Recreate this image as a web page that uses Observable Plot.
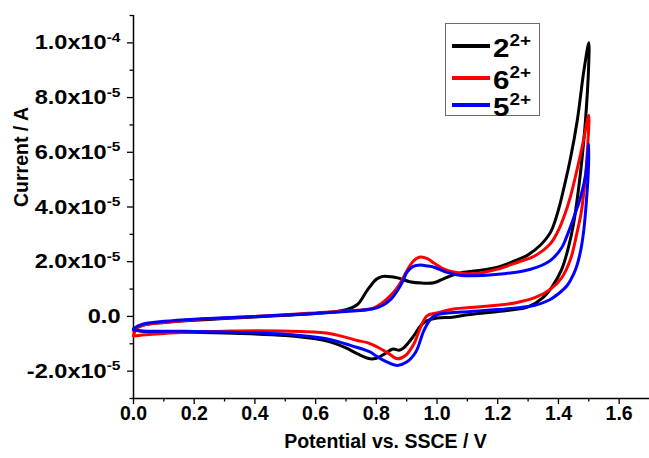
<!DOCTYPE html>
<html>
<head>
<meta charset="utf-8">
<script src="https://cdn.jsdelivr.net/npm/d3@7"></script>
<script src="https://cdn.jsdelivr.net/npm/@observablehq/plot@0.6"></script>
<style>
  body { margin: 0; background: #fff; }
  #wrap { position: relative; width: 649px; height: 458px; font-family: "Liberation Sans", Arial, sans-serif; }
  #wrap svg text { font-family: "Liberation Sans", Arial, sans-serif; font-weight: bold; }
  #wrap svg g[aria-label="x-axis tick label"] { font-size: 19.5px; }
  #wrap svg g[aria-label="y-axis tick label"] { font-size: 20.5px; }
  .legend { position: absolute; left: 445px; top: 23px; width: 95px; height: 93px; border: 1.5px solid #6b6b6b; background: #fff; box-sizing: border-box; }
  .legend .sw { position: absolute; left: 6px; width: 38px; height: 3.5px; }
  .legend .lab { position: absolute; left: 47px; font-size: 25px; font-weight: bold; line-height: 28px; color: #000; white-space: nowrap; transform: scaleX(1.18); transform-origin: left center; }
  .legend .lab sup { font-size: 16px; vertical-align: 11px; line-height: 0; }
</style>
</head>
<body>
<div id="wrap"></div>
<script>
// ---- data (potential in V, current in µA) ----
const seriesNames = ["2", "6", "5"];
const seriesColors = ["#000000", "#ff0000", "#0000ff"];

// 2^2+ (black) : forward scan then reverse scan
const potential2 = [0.00, 0.03, 0.10, 0.20, 0.30, 0.40, 0.50, 0.60, 0.68, 0.72, 0.74, 0.77, 0.80, 0.82, 0.85, 0.87, 0.91, 0.95, 0.99, 1.03, 1.08, 1.15, 1.20, 1.26, 1.30, 1.34, 1.375, 1.40, 1.418, 1.44, 1.462, 1.484, 1.50,
  1.499, 1.489, 1.478, 1.467, 1.45, 1.43, 1.41, 1.38, 1.35, 1.30, 1.25, 1.20, 1.10, 1.05, 1.00, 0.96, 0.945, 0.92, 0.89, 0.875, 0.855, 0.83, 0.80, 0.78, 0.74, 0.70, 0.65, 0.60, 0.50, 0.40, 0.30, 0.19, 0.08, 0.02, 0.00];
const current2 = [-4.5, -3.2, -2.2, -1.4, -0.8, -0.2, 0.4, 1.1, 2.0, 3.2, 4.6, 9.5, 13.6, 14.6, 14.5, 14.1, 12.7, 12.2, 12.3, 14.2, 16.0, 17.0, 18.0, 20.5, 22.5, 26.0, 31.0, 39.0, 47.0, 58.0, 71.6, 90.0, 100.0,
  90.0, 71.6, 58.0, 47.3, 34.0, 24.0, 17.0, 11.0, 7.0, 3.5, 2.4, 1.8, 0.6, -0.3, -0.6, -2.0, -3.5, -7.6, -11.5, -12.4, -11.9, -13.5, -15.3, -15.5, -13.8, -11.5, -9.4, -8.2, -7.0, -6.4, -6.1, -5.8, -5.6, -5.3, -4.8];

// 6^2+ (red)
const potential6 = [0.00, 0.01, 0.04, 0.10, 0.20, 0.30, 0.40, 0.50, 0.60, 0.70, 0.79, 0.82, 0.85, 0.875, 0.90, 0.92, 0.945, 0.97, 0.99, 1.03, 1.08, 1.12, 1.20, 1.27, 1.32, 1.374, 1.40, 1.42, 1.44, 1.46, 1.48, 1.50,
  1.495, 1.488, 1.475, 1.46, 1.44, 1.41, 1.374, 1.33, 1.26, 1.15, 1.05, 1.00, 0.967, 0.946, 0.924, 0.896, 0.869, 0.84, 0.814, 0.77, 0.737, 0.65, 0.55, 0.40, 0.30, 0.20, 0.10, 0.03, 0.00];
const current6 = [-7.0, -4.5, -3.0, -2.2, -1.2, -0.6, 0.0, 0.6, 1.3, 2.0, 3.0, 5.0, 8.0, 11.5, 16.5, 20.0, 21.7, 21.0, 19.5, 17.0, 15.8, 15.6, 17.3, 20.0, 22.0, 26.7, 31.5, 37.0, 44.0, 53.0, 63.0, 73.5,
  60.0, 50.0, 38.0, 30.0, 21.0, 14.0, 10.0, 7.2, 5.0, 3.6, 2.6, 1.3, 0.2, -3.9, -10.0, -14.3, -15.5, -13.5, -11.8, -9.6, -8.8, -6.3, -5.5, -5.2, -5.4, -5.7, -6.2, -6.8, -7.2];

// 5^2+ (blue)
const potential5 = [0.00, 0.01, 0.04, 0.10, 0.20, 0.30, 0.40, 0.50, 0.60, 0.70, 0.79, 0.82, 0.85, 0.87, 0.89, 0.90, 0.92, 0.945, 0.97, 0.99, 1.03, 1.08, 1.15, 1.22, 1.28, 1.33, 1.374, 1.41, 1.43, 1.45, 1.473, 1.49, 1.50,
  1.498, 1.492, 1.484, 1.474, 1.462, 1.45, 1.43, 1.40, 1.37, 1.32, 1.20, 1.08, 1.00, 0.98, 0.957, 0.93, 0.90, 0.869, 0.836, 0.80, 0.78, 0.715, 0.65, 0.55, 0.40, 0.30, 0.20, 0.10, 0.03, 0.00];
const current5 = [-5.0, -3.8, -2.6, -1.8, -1.0, -0.5, 0.0, 0.5, 1.1, 1.8, 2.8, 4.0, 6.5, 9.5, 13.5, 16.0, 18.2, 18.8, 18.4, 18.0, 16.2, 15.0, 15.0, 15.6, 16.5, 18.0, 20.5, 25.0, 30.0, 36.0, 43.6, 52.0, 63.0,
  52.0, 42.0, 32.0, 24.5, 19.0, 15.5, 11.5, 8.3, 6.0, 4.0, 2.5, 1.6, 0.6, -0.8, -5.1, -13.0, -16.7, -17.9, -16.7, -14.5, -13.0, -10.6, -8.5, -7.0, -6.0, -5.7, -5.5, -5.4, -5.3, -5.0];

// axis ticks
const xTicks = [0, 0.2, 0.4, 0.6, 0.8, 1.0, 1.2, 1.4, 1.6];
const xMinorTicks = [0.1, 0.3, 0.5, 0.7, 0.9, 1.1, 1.3, 1.5];
const yTicks = [-2e-5, 0, 2e-5, 4e-5, 6e-5, 8e-5, 1e-4];
const yMinorTicks = [-3e-5, -1e-5, 1e-5, 3e-5, 5e-5, 7e-5, 9e-5, 1.1e-4];

function rows(E, I, name) {
  return E.map((e, k) => ({E: e, I: I[k] * 1e-6, s: name}));
}
const data = [rows(potential2, current2, "2"), rows(potential6, current6, "6"), rows(potential5, current5, "5")];

function fmtY(d) {
  if (Math.abs(d) < 1e-12) return "0.0";
  const e = Math.floor(Math.log10(Math.abs(d)) + 1e-9);
  const m = d / Math.pow(10, e);
  return m.toFixed(1) + "x10^" + e;
}

const chart = Plot.plot({
  width: 649,
  height: 458,
  marginLeft: 133,
  marginRight: 0,
  marginTop: 15,
  marginBottom: 60,
  style: {fontFamily: "Liberation Sans, Arial, sans-serif", fontWeight: "bold", background: "#fff", color: "#000"},
  x: {domain: [0, 1.7]},
  y: {domain: [-3e-5, 1.1e-4]},
  marks: [
    Plot.axisX({ticks: xTicks, tickSize: 6, tickPadding: 2, tickFormat: d => d.toFixed(1), label: null, strokeWidth: 1.3}),
    Plot.axisX({ticks: xMinorTicks, tickSize: 3.5, text: null, label: null, strokeWidth: 1.3}),
    Plot.axisY({ticks: yTicks, tickSize: 6, tickPadding: 7, tickFormat: fmtY, label: null, strokeWidth: 1.3}),
    Plot.axisY({ticks: yMinorTicks, tickSize: 3.5, text: null, label: null, strokeWidth: 1.3}),
    Plot.ruleX([0], {stroke: "#000", strokeWidth: 1.5}),
    Plot.ruleY([-3e-5], {stroke: "#000", strokeWidth: 1.5}),
    ...data.map((d, k) => Plot.line(d, {x: "E", y: "I", stroke: seriesColors[k], strokeWidth: 3, curve: "catmull-rom"})),
    Plot.text(["Current / A"], {frameAnchor: "left", dx: -112, rotate: -90, fontSize: 19.5, fontWeight: "bold"}),
    Plot.text(["Potential vs. SSCE / V"], {frameAnchor: "bottom", dy: 49, dx: -6, fontSize: 19.5, fontWeight: "bold"})
  ]
});

// superscript exponents in y tick labels, slightly widened like the original figure
d3.select(chart).selectAll('g[aria-label="y-axis tick label"] text').each(function() {
  const t = this.textContent;
  const sel = d3.select(this);
  if (t.includes("^")) {
    const [base, exp] = t.split("^");
    sel.text(base);
    sel.append("tspan").attr("dy", "-0.55em").attr("font-size", "13.5px").text(exp);
  }
  const tr = sel.attr("transform") || "";
  sel.attr("transform", tr + " scale(1.15,1)");
});

const wrap = document.getElementById("wrap");
wrap.appendChild(chart);

// legend
const legend = document.createElement("div");
legend.className = "legend";
const lineY = [22, 54, 81];
seriesNames.forEach((n, k) => {
  const sw = document.createElement("div");
  sw.className = "sw";
  sw.style.background = seriesColors[k];
  sw.style.top = (lineY[k] - 2) + "px";
  const lab = document.createElement("div");
  lab.className = "lab";
  lab.style.top = (lineY[k] - 12) + "px";
  lab.innerHTML = `${n}<sup>2+</sup>`;
  legend.appendChild(sw);
  legend.appendChild(lab);
});
wrap.appendChild(legend);
</script>
</body>
</html>
